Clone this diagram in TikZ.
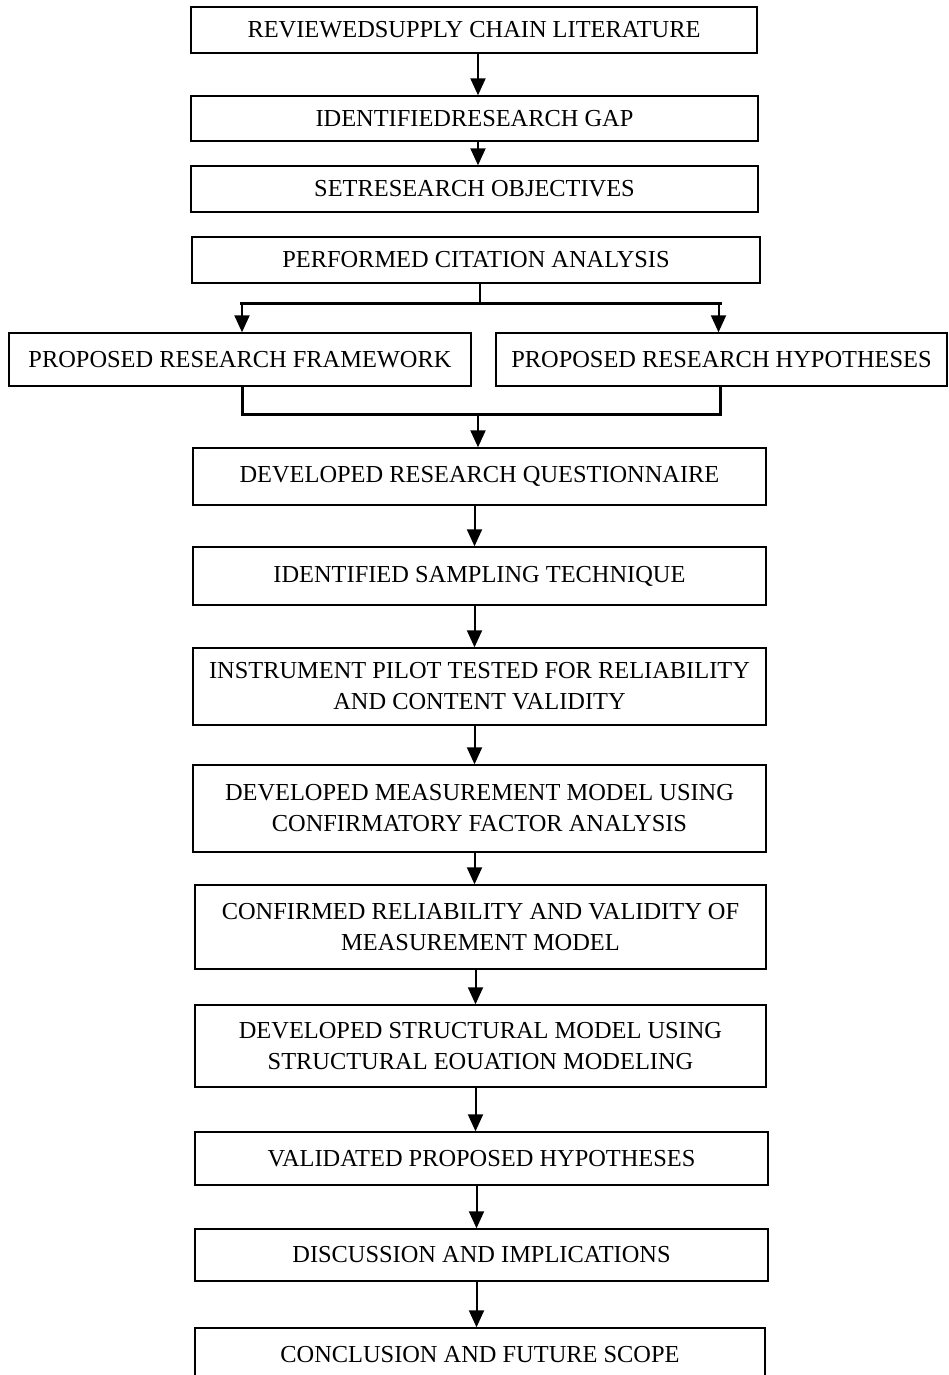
\documentclass[tikz,border=0pt]{standalone}
\usepackage{fontspec}
\setmainfont{Liberation Serif}
\usetikzlibrary{positioning, arrows.meta, calc}
\tikzset{
  step box/.style={draw, line width=0.7pt, rectangle, inner sep=0pt, align=center, font=\fontsize{12.2}{15.5}\selectfont},
  flow/.style={line width=1pt, -{Triangle[length=8.5pt,width=7.5pt]}},
  link/.style={line width=1pt},
  bar/.style={line width=1.5pt}
}
\begin{document}
\begin{tikzpicture}[x=0.5pt, y=-0.5pt]
  \clip (0,0) rectangle (948,1375);

  \node[step box, minimum width=283pt, minimum height=23pt] (rev) at (474,30) {REVIEWEDSUPPLY CHAIN LITERATURE};
  \node[step box, minimum width=283.5pt, minimum height=22.5pt] (gap) at (474.5,118.5) {IDENTIFIEDRESEARCH GAP};
  \node[step box, minimum width=283.5pt, minimum height=23pt] (obj) at (474.5,189) {SETRESEARCH OBJECTIVES};
  \node[step box, minimum width=284pt, minimum height=23pt] (cit) at (476,260) {PERFORMED CITATION ANALYSIS};

  \node[step box, minimum width=231pt, minimum height=26.5pt] (frame) at (240,359.5) {PROPOSED RESEARCH FRAMEWORK};
  \node[step box, minimum width=225.5pt, minimum height=26.5pt] (hyp) at (721.5,359.5) {PROPOSED RESEARCH HYPOTHESES};

  \node[step box, minimum width=286.5pt, minimum height=28.5pt] (quest) at (479.5,476.5) {DEVELOPED RESEARCH QUESTIONNAIRE};
  \node[step box, minimum width=286.5pt, minimum height=29pt] (samp) at (479.5,576) {IDENTIFIED SAMPLING TECHNIQUE};
  \node[step box, minimum width=286.5pt, minimum height=38.5pt] (pilot) at (479.5,686.5) {INSTRUMENT PILOT TESTED FOR RELIABILITY\\AND CONTENT VALIDITY};
  \node[step box, minimum width=286.5pt, minimum height=43.5pt] (meas) at (479.5,808.5) {DEVELOPED MEASUREMENT MODEL USING\\CONFIRMATORY FACTOR ANALYSIS};
  \node[step box, minimum width=285.5pt, minimum height=42pt] (conf) at (480.5,927) {CONFIRMED RELIABILITY AND VALIDITY OF\\MEASUREMENT MODEL};
  \node[step box, minimum width=285.5pt, minimum height=41pt] (struc) at (480.5,1046) {DEVELOPED STRUCTURAL MODEL USING\\STRUCTURAL EOUATION MODELING};
  \node[step box, minimum width=286.5pt, minimum height=26.5pt] (valid) at (481.5,1158.5) {VALIDATED PROPOSED HYPOTHESES};
  \node[step box, minimum width=286.5pt, minimum height=26pt] (disc) at (481.5,1255) {DISCUSSION AND IMPLICATIONS};
  \node[step box, minimum width=285pt, minimum height=27pt] (concl) at (480,1355) {CONCLUSION AND FUTURE SCOPE};

  % top chain
  \draw[flow] ($(rev.south)+(4,0)$) -- ($(rev.south |- gap.north)+(4,0)$);
  \draw[flow] ($(gap.south)+(3.5,0)$) -- ($(gap.south |- obj.north)+(3.5,0)$);

  % split into framework and hypotheses
  \coordinate (split) at (480,303);
  \draw[link] (cit.south -| split) -- (split);
  \draw[bar] (frame.north |- split) -- (hyp.north |- split);
  \draw[flow] ($(frame.north |- split)+(2,0)$) -- ($(frame.north)+(2,0)$);
  \draw[flow] ($(hyp.north |- split)+(-3,0)$) -- ($(hyp.north)+(-3,0)$);

  % merge back
  \coordinate (merge) at (478,414);
  \draw[bar] ($(frame.south)+(2,0)$) |- (merge) -| ($(hyp.south)+(-1,0)$);
  \draw[flow] (merge) -- (merge |- quest.north);

  % lower chain
  \foreach \a/\b in {quest/samp, samp/pilot, pilot/meas, meas/conf, conf/struc, struc/valid, valid/disc, disc/concl}
    \draw[flow] ($(\a.south)+(-5,0)$) -- ($(\a.south |- \b.north)+(-5,0)$);
\end{tikzpicture}
\end{document}
